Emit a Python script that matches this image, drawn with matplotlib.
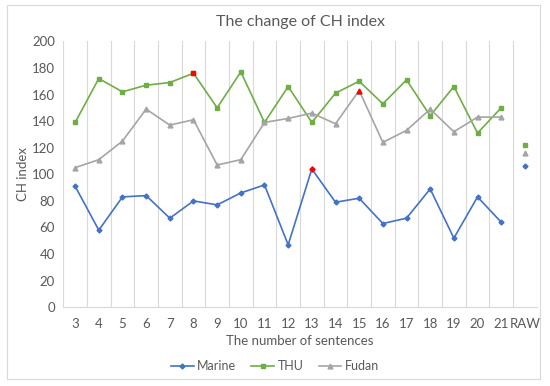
import numpy as np
import matplotlib
matplotlib.use("Agg")
import matplotlib.pyplot as plt
from matplotlib.patches import Rectangle

plt.rcParams['font.family'] = ['Lato', 'DejaVu Sans']

# data
labels = ['3', '4', '5', '6', '7', '8', '9', '10', '11', '12', '13', '14', '15',
          '16', '17', '18', '19', '20', '21', 'RAW']
marine = [91, 58, 83, 84, 67, 80, 77, 86, 92, 47, 104, 79, 82, 63, 67, 89, 52, 83, 64]
thu = [139, 172, 162, 167, 169, 176, 150, 177, 139, 166, 139, 161, 170, 153, 171, 144, 166, 131, 150]
fudan = [105, 111, 125, 149, 137, 141, 107, 111, 139, 142, 146, 138, 163, 124, 133, 149, 132, 143, 143]
raw_marine = 106
raw_thu = 122
raw_fudan = 116
# points marked in red (index into the lists above)
best_marine = 10
best_thu = 5
best_fudan = 12

blue = '#4472C4'
green = '#70AD47'
gray = '#A5A5A5'
text_c = '#595959'

fig = plt.figure(figsize=(5.5, 3.86), dpi=100)
fig.patches.append(Rectangle((7/550, 1-379/386), 533/550, 374/386, transform=fig.transFigure,
                             fill=False, edgecolor='#D9D9D9', linewidth=0.8))
ax = fig.add_axes([63.3/550, 1-307.3/386, 473.4/550, 266/386])

x = np.arange(len(marine))
xr = len(marine)

series = [
    ('Marine', marine, raw_marine, best_marine, blue, 'D', 2.5),
    ('THU', thu, raw_thu, best_thu, green, 's', 3.5),
    ('Fudan', fudan, raw_fudan, best_fudan, gray, '^', 3.5),
]
for name, vals, rv, i, c, m, ms in series:
    ax.plot(x, vals, color=c, lw=1.2, marker=m, ms=ms, label=name, zorder=3)
    ax.plot([xr], [rv], color=c, marker=m, ms=ms, ls='none', zorder=3)
    ax.plot([x[i]], [vals[i]], color='red', marker=m, ms=ms, ls='none', zorder=4)

ax.set_xlim(-0.5, len(labels) - 0.5)
ax.set_ylim(0, 200)
ax.set_yticks(range(0, 201, 20))
ax.set_xticks(range(len(labels)))
ax.set_xticklabels(labels)
for b in np.arange(-0.5, len(labels), 1.0):
    ax.axvline(b, color='#D9D9D9', lw=0.8, zorder=1)

for s in ['top', 'right', 'left']:
    ax.spines[s].set_visible(False)
ax.spines['bottom'].set_color('#D9D9D9')
ax.tick_params(length=0, labelsize=9.5, labelcolor=text_c)
ax.tick_params(axis='x', pad=8)
ax.tick_params(axis='y', pad=6)

ax.set_title('The change of CH index', fontsize=11.5, color=text_c, pad=11)
ax.set_xlabel('The number of sentences', fontsize=9.5, color=text_c, labelpad=3)
ax.set_ylabel('CH index', fontsize=9.5, color=text_c, labelpad=2)

fig.legend(loc='center', bbox_to_anchor=(0.5, 1-366/386), ncol=3, frameon=False,
           fontsize=9, labelcolor=text_c, handlelength=1.8, handletextpad=0.3,
           columnspacing=1.2)

fig.savefig('out.png', dpi=100)
